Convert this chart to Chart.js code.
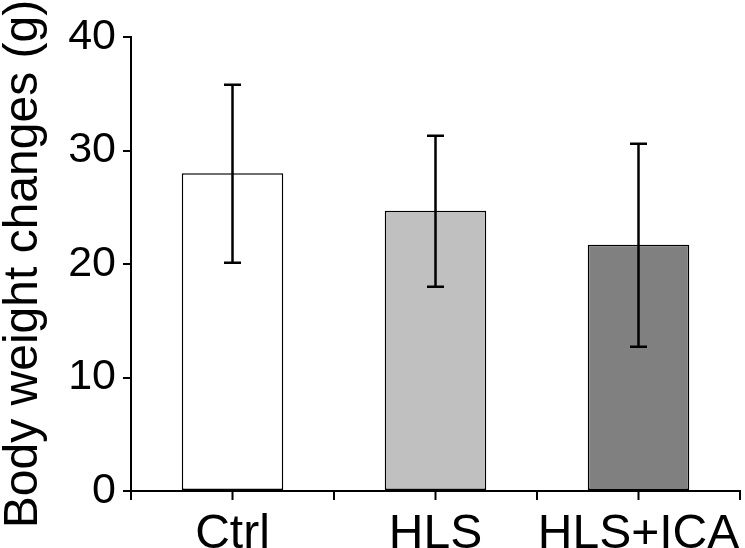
<!DOCTYPE html>
<html>
<head>
<meta charset="utf-8">
<script src="https://cdn.jsdelivr.net/npm/chart.js@4/dist/chart.umd.min.js"></script>
<style>
  html, body { margin: 0; padding: 0; background: #fff; }
  #wrap { width: 745px; height: 548px; }
</style>
</head>
<body>
<div id="wrap"><canvas id="myChart"></canvas></div>
<script>
var labels = ["Ctrl", "HLS", "HLS+ICA"];
var means = [28.0, 24.7, 21.7];
var errLow = [20.1, 18.0, 12.7];
var errHigh = [35.8, 31.3, 30.6];
var barColors = ['#ffffff', '#c0c0c0', '#808080'];

var FONT = "'Liberation Sans', Arial, sans-serif";

// error bars drawn on top of the bars
var errorBars = {
    id: 'errorBars',
    afterDatasetsDraw: function (chart) {
        var ctx = chart.ctx;
        var y = chart.scales.y;
        var meta = chart.getDatasetMeta(0);
        ctx.save();
        ctx.strokeStyle = '#000';
        ctx.lineWidth = 2.5;
        meta.data.forEach(function (bar, i) {
            var top = y.getPixelForValue(errHigh[i]);
            var bot = y.getPixelForValue(errLow[i]);
            ctx.beginPath();
            ctx.moveTo(bar.x, top);
            ctx.lineTo(bar.x, bot);
            ctx.moveTo(bar.x - 8.5, top);
            ctx.lineTo(bar.x + 8.5, top);
            ctx.moveTo(bar.x - 8.5, bot);
            ctx.lineTo(bar.x + 8.5, bot);
            ctx.stroke();
        });
        ctx.restore();
    }
};

// x ticks at category centres and boundaries
var xTicks = {
    id: 'xTicks',
    afterDraw: function (chart) {
        var ctx = chart.ctx;
        var x = chart.scales.x;
        var bottom = chart.chartArea.bottom;
        ctx.save();
        ctx.strokeStyle = '#000';
        ctx.lineWidth = 2;
        ctx.beginPath();
        for (var i = 0; i < labels.length; i++) {
            var c = x.getPixelForTick(i);
            var half = (x.getPixelForTick(1) - x.getPixelForTick(0)) / 2;
            [c - half, c, c + half].forEach(function (px) {
                ctx.moveTo(px, bottom);
                ctx.lineTo(px, bottom + 9);
            });
        }
        ctx.stroke();
        ctx.restore();
    }
};

var ctx = document.getElementById("myChart").getContext('2d');
var myChart = new Chart(ctx, {
    type: 'bar',
    data: {
        labels: labels,
        datasets: [{
            data: means,
            backgroundColor: barColors,
            borderColor: '#000',
            borderWidth: 1.5,
            borderSkipped: false,
            barPercentage: 0.5,
            categoryPercentage: 1.0
        }]
    },
    options: {
        responsive: true,
        maintainAspectRatio: false,
        animation: false,
        layout: { padding: { top: 37, right: 5, left: 0, bottom: 0 } },
        plugins: {
            legend: { display: false },
            tooltip: { enabled: false }
        },
        scales: {
            x: {
                grid: { display: false },
                border: { display: true, color: '#000', width: 2 },
                ticks: {
                    color: '#000',
                    padding: 7,
                    maxRotation: 0,
                    minRotation: 0,
                    autoSkip: false,
                    font: { family: FONT, size: 48 }
                },
                afterFit: function (scale) {
                    scale.height = 57;
                    scale.paddingLeft = 0;
                    scale.paddingRight = 0;
                }
            },
            y: {
                min: 0,
                max: 40,
                ticks: {
                    stepSize: 10,
                    color: '#000',
                    padding: 7,
                    font: { family: FONT, size: 43 }
                },
                grid: {
                    drawOnChartArea: false,
                    drawTicks: true,
                    tickLength: 8,
                    color: '#000',
                    lineWidth: 2
                },
                border: { display: true, color: '#000', width: 2 },
                title: {
                    display: true,
                    text: 'Body weight changes (g)',
                    color: '#000',
                    padding: { top: 0, bottom: 0, y: 0 },
                    font: { family: FONT, size: 48, lineHeight: 1 }
                },
                afterFit: function (scale) { scale.width = 131; }
            }
        }
    },
    plugins: [errorBars, xTicks]
});
</script>
</body>
</html>
